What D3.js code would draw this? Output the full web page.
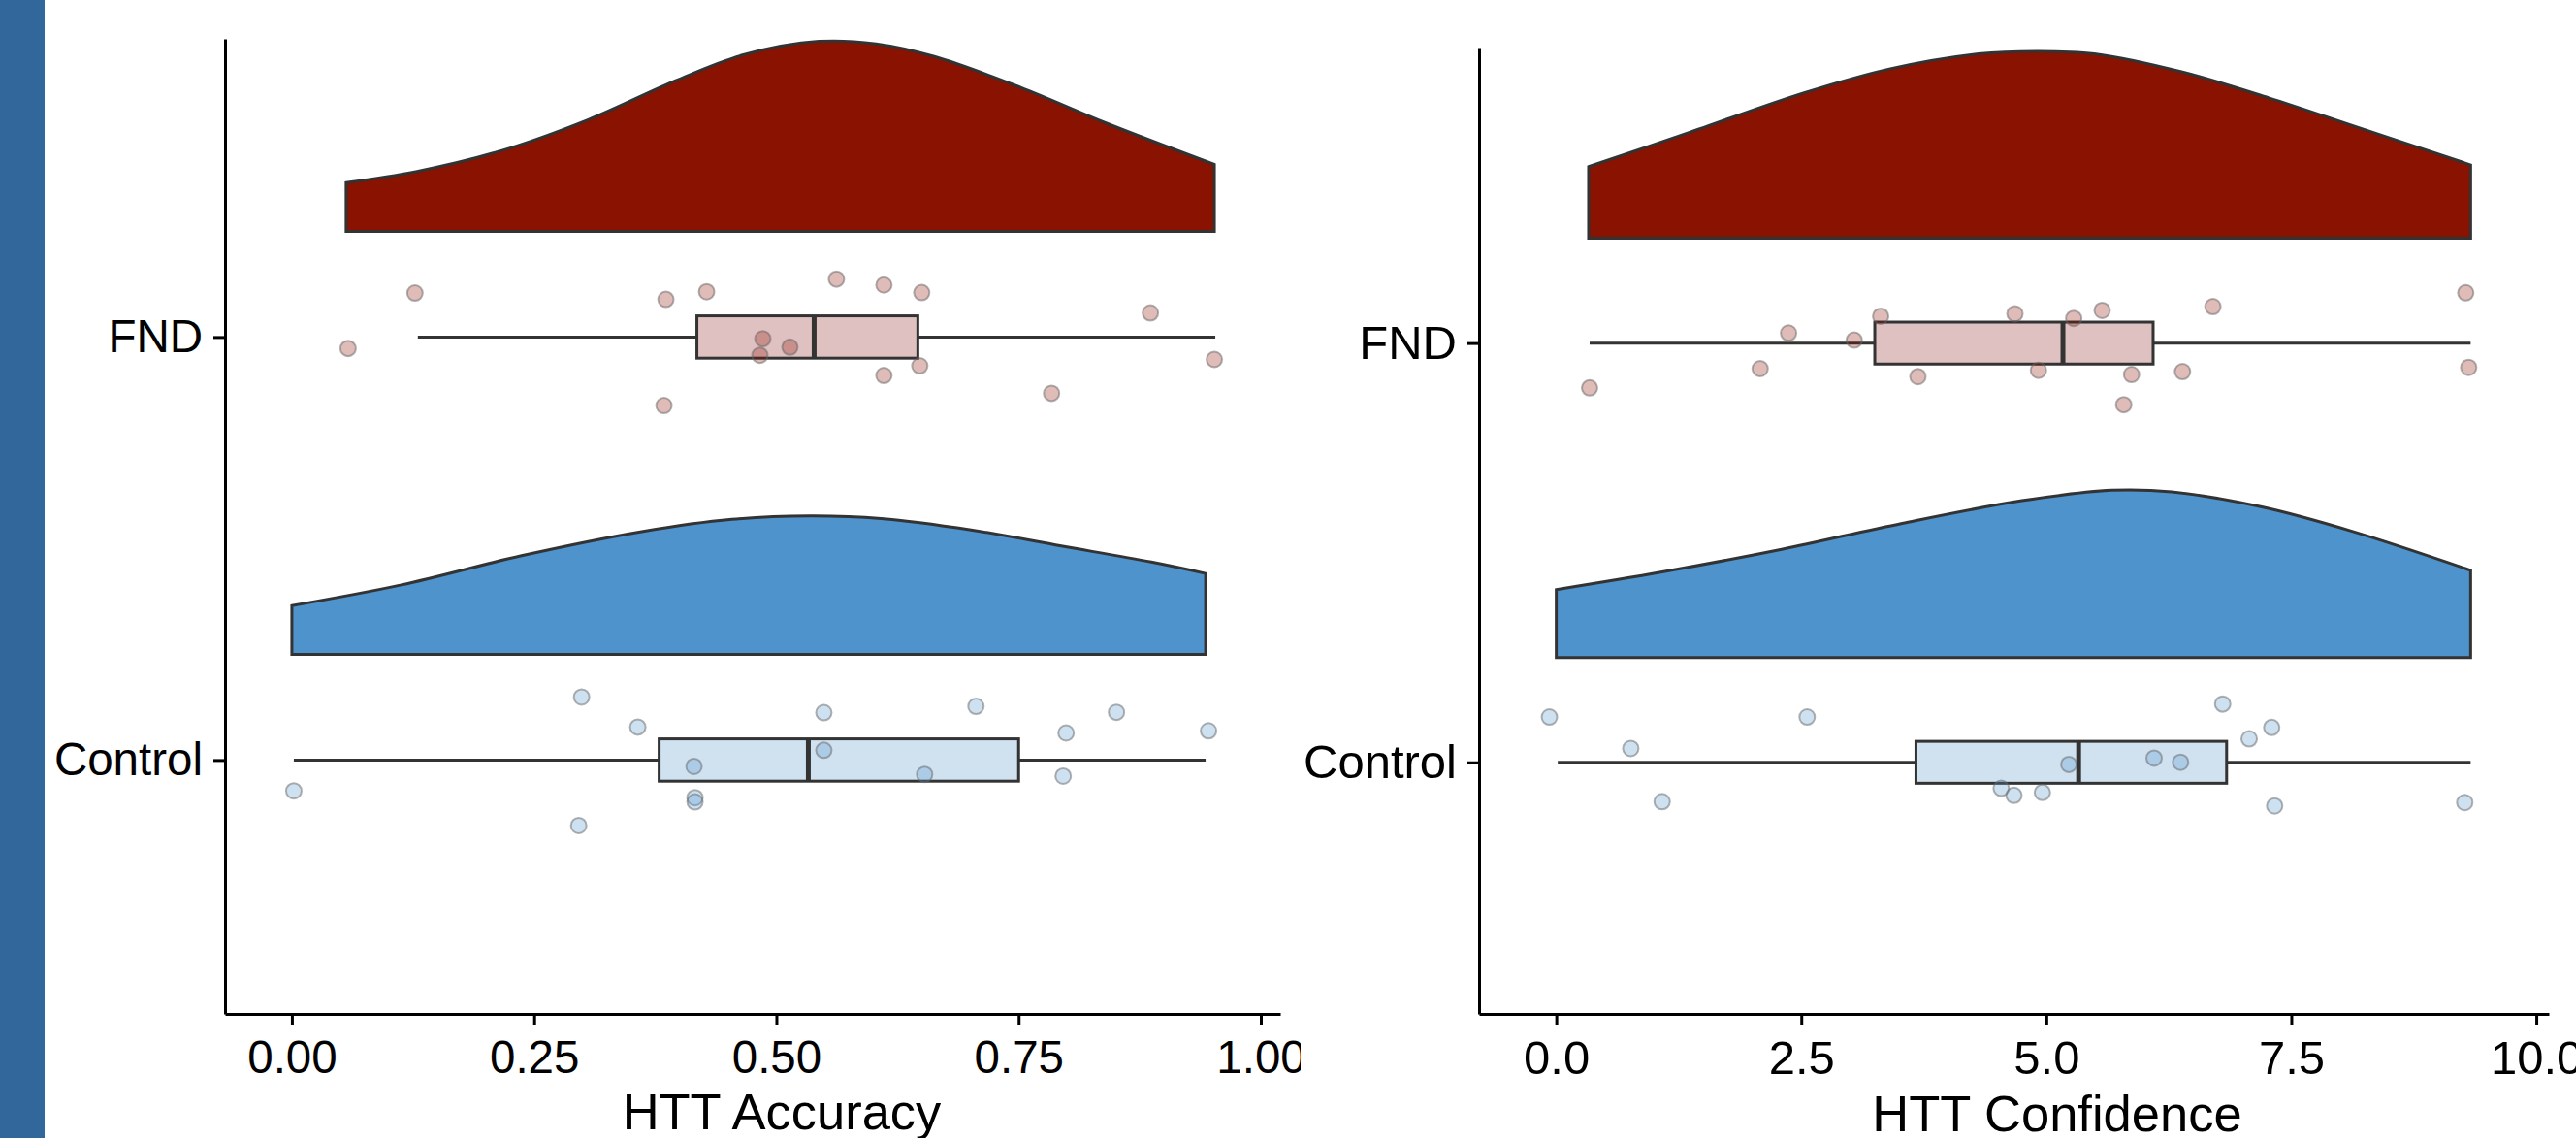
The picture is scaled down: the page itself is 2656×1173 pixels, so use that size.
<!DOCTYPE html>
<meta charset="utf-8">
<html>
<head>
<style>
body { margin: 0; background: #fff; }
</style>
</head>
<body>
<svg width="2656" height="1173"></svg>
<script src="https://d3js.org/d3.v7.min.js"></script>
<script>
var groups = ["FND", "Control"];
var font = "'Liberation Sans', Arial, Helvetica, sans-serif";

// ---- HTT Accuracy ----
var accTicks = [0, 0.25, 0.5, 0.75, 1.0];
var accFND = [0.127, 0.058, 0.386, 0.428, 0.562, 0.611, 0.650, 0.886, 0.952, 0.486, 0.514, 0.483, 0.648, 0.611, 0.784, 0.384];
var accFNDJitter = [-0.104, 0.027, -0.089, -0.107, -0.137, -0.123, -0.105, -0.057, 0.053, 0.004, 0.024, 0.043, 0.068, 0.091, 0.133, 0.162];
var accCtrl = [0.299, 0.357, 0.549, 0.706, 0.851, 0.799, 0.946, 0.549, 0.415, 0.653, 0.796, 0.002, 0.416, 0.416, 0.296];
var accCtrlJitter = [-0.149, -0.078, -0.112, -0.127, -0.113, -0.064, -0.069, -0.023, 0.015, 0.034, 0.038, 0.073, 0.089, 0.099, 0.155];
// box stats: whisker low, q1, median, q3, whisker high
var accFNDBox = [0.130, 0.418, 0.539, 0.646, 0.953];
var accCtrlBox = [0.002, 0.379, 0.533, 0.750, 0.943];
// density outline: [value, density]
var accFNDDens = [[0.056, 0.115], [0.128, 0.141], [0.217, 0.191], [0.306, 0.264], [0.396, 0.356], [0.466, 0.417],
  [0.544, 0.449], [0.603, 0.443], [0.663, 0.413], [0.752, 0.340], [0.840, 0.256], [0.952, 0.158]];
var accCtrlDens = [[0.0, 0.115], [0.113, 0.164], [0.237, 0.233], [0.361, 0.290], [0.454, 0.319], [0.534, 0.327],
  [0.608, 0.321], [0.701, 0.294], [0.794, 0.256], [0.887, 0.218], [0.943, 0.191]];

// ---- HTT Confidence ----
var confTicks = [0, 2.5, 5, 7.5, 10];
var confFND = [9.28, 6.70, 5.57, 5.28, 4.68, 3.31, 2.37, 3.04, 2.08, 3.69, 4.92, 5.87, 6.39, 9.31, 5.79, 0.34];
var confFNDJitter = [-0.120, -0.087, -0.078, -0.059, -0.070, -0.064, -0.024, -0.007, 0.061, 0.080, 0.065, 0.075, 0.068, 0.058, 0.147, 0.107];
var confCtrl = [-0.07, 2.56, 0.76, 1.08, 6.80, 7.30, 7.07, 6.10, 6.37, 5.23, 4.54, 4.67, 4.96, 7.33, 9.27];
var confCtrlJitter = [-0.108, -0.108, -0.033, 0.094, -0.139, -0.083, -0.056, -0.010, 0.0, 0.005, 0.062, 0.079, 0.072, 0.104, 0.096];
var confFNDBox = [0.34, 3.25, 5.17, 6.09, 9.33];
var confCtrlBox = [0.015, 3.67, 5.33, 6.84, 9.33];
var confFNDDens = [[0.33, 0.171], [1.34, 0.251], [2.53, 0.347], [3.42, 0.405], [4.31, 0.440], [4.90, 0.446],
  [5.49, 0.440], [6.38, 0.397], [7.27, 0.335], [8.16, 0.266], [9.33, 0.175]];
var confCtrlDens = [[0.0, 0.162], [1.08, 0.204], [2.30, 0.258], [3.53, 0.320], [4.75, 0.374], [5.67, 0.399],
  [6.28, 0.395], [7.20, 0.359], [8.12, 0.301], [9.33, 0.208]];

var colors = { cloud: ["#8a1200", "#4f93cd"], box: ["#e0c1c1", "#d0e1f0"], dot: ["#8b1000", "#4f94cd"] };

var svg = d3.select("svg");

svg.append("rect").attr("x", 0).attr("y", 0).attr("width", 46).attr("height", 1173).attr("fill", "#31679a");

var defs = svg.append("defs");
defs.append("clipPath").attr("id", "clipL").append("rect")
  .attr("x", 46).attr("y", 0).attr("width", 1295).attr("height", 1173);
defs.append("clipPath").attr("id", "clipR").append("rect")
  .attr("x", 1341).attr("y", 0).attr("width", 1315).attr("height", 1173);

function drawPanel(cfg) {
  var g = svg.append("g").attr("clip-path", "url(#" + cfg.clip + ")");

  var x = d3.scaleLinear().domain(cfg.xDomain).range(cfg.xRange);
  var y = d3.scaleLinear().domain([-0.705, 1.6]).range(cfg.yRange);

  // clouds (half violins)
  cfg.dens.forEach(function(d, i) {
    var base = i - 0.25;
    var area = d3.area()
      .x(function(p) { return x(p[0]); })
      .y0(y(base))
      .y1(function(p) { return y(base - p[1]); })
      .curve(d3.curveCatmullRom.alpha(0.5));
    g.append("path")
      .datum(d)
      .attr("d", area)
      .attr("fill", colors.cloud[i])
      .attr("stroke", "#333")
      .attr("stroke-width", 3);
  });

  // boxes
  cfg.box.forEach(function(b, i) {
    var bg = g.append("g");
    bg.append("line")
      .attr("x1", x(b[0])).attr("x2", x(b[1]))
      .attr("y1", y(i)).attr("y2", y(i))
      .attr("stroke", "#333").attr("stroke-width", 3);
    bg.append("line")
      .attr("x1", x(b[3])).attr("x2", x(b[4]))
      .attr("y1", y(i)).attr("y2", y(i))
      .attr("stroke", "#333").attr("stroke-width", 3);
    bg.append("rect")
      .attr("x", x(b[1])).attr("width", x(b[3]) - x(b[1]))
      .attr("y", y(i - 0.05)).attr("height", y(i + 0.05) - y(i - 0.05))
      .attr("fill", colors.box[i])
      .attr("stroke", "#333").attr("stroke-width", 3);
    bg.append("line")
      .attr("x1", x(b[2])).attr("x2", x(b[2]))
      .attr("y1", y(i - 0.05)).attr("y2", y(i + 0.05))
      .attr("stroke", "#333").attr("stroke-width", 5);
  });

  // rain
  cfg.pts.forEach(function(vals, i) {
    g.append("g").selectAll("circle")
      .data(vals)
      .join("circle")
      .attr("cx", function(v) { return x(v); })
      .attr("cy", function(v, k) { return y(i + cfg.jit[i][k]); })
      .attr("r", 8)
      .attr("fill", colors.dot[i])
      .attr("fill-opacity", 0.28)
      .attr("stroke", "#666")
      .attr("stroke-opacity", 0.5)
      .attr("stroke-width", 2);
  });

  // axes
  var xa = g.append("g")
    .attr("transform", "translate(0," + cfg.yRange[1] + ")")
    .call(d3.axisBottom(x).tickValues(cfg.ticks).tickFormat(d3.format(cfg.fmt))
      .tickSize(12).tickSizeOuter(0).tickPadding(15));
  var ya = g.append("g")
    .attr("transform", "translate(" + cfg.xRange[0] + ",0)")
    .call(d3.axisLeft(y).tickValues([0, 1]).tickFormat(function(i) { return groups[i]; })
      .tickSize(12).tickSizeOuter(0).tickPadding(11));
  [xa, ya].forEach(function(a) {
    a.attr("font-family", font).attr("font-size", cfg.tickFont);
    a.select(".domain").attr("stroke", "#000").attr("stroke-width", 3);
    a.selectAll(".tick line").attr("stroke", "#000").attr("stroke-width", 3);
    a.selectAll(".tick text").attr("fill", "#000");
  });

  g.append("text")
    .attr("x", cfg.labelPos[0]).attr("y", cfg.labelPos[1])
    .attr("text-anchor", "middle")
    .attr("font-family", font).attr("font-size", 52.5)
    .text(cfg.label);
}

drawPanel({
  clip: "clipL",
  xDomain: [-0.069, 1.020], xRange: [232, 1320], yRange: [40, 1045],
  ticks: accTicks, fmt: ".2f", tickFont: 47.5,
  dens: [accFNDDens, accCtrlDens], box: [accFNDBox, accCtrlBox],
  pts: [accFND, accCtrl], jit: [accFNDJitter, accCtrlJitter],
  label: "HTT Accuracy", labelPos: [806, 1164]
});

drawPanel({
  clip: "clipR",
  xDomain: [-0.788, 10.128], xRange: [1525, 2628], yRange: [49, 1045],
  ticks: confTicks, fmt: ".1f", tickFont: 49,
  dens: [confFNDDens, confCtrlDens], box: [confFNDBox, confCtrlBox],
  pts: [confFND, confCtrl], jit: [confFNDJitter, confCtrlJitter],
  label: "HTT Confidence", labelPos: [2121, 1166]
});
</script>
</body>
</html>
